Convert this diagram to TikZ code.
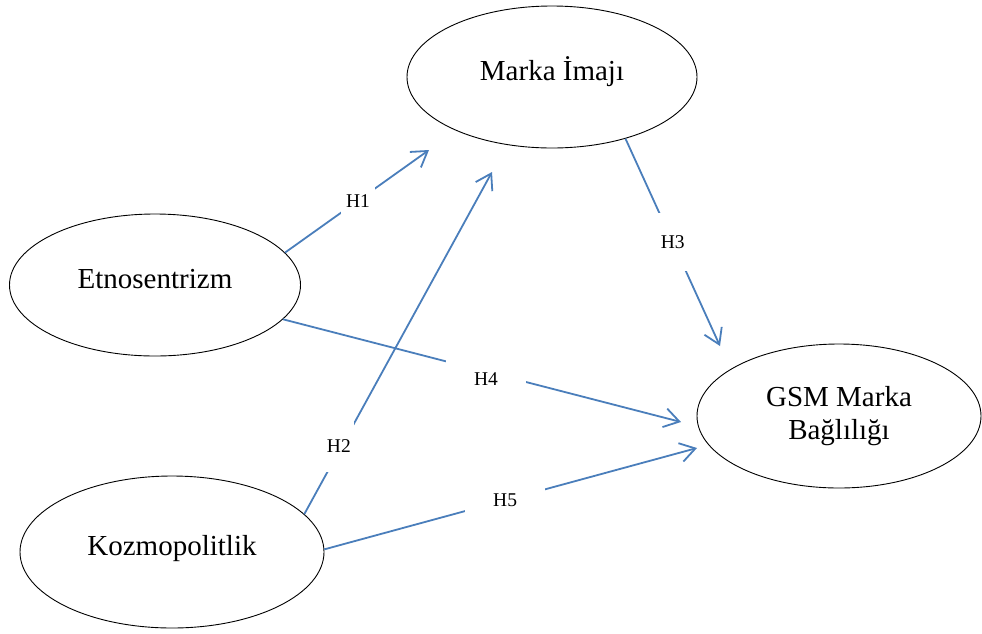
\documentclass[tikz,border=0pt]{standalone}
\usepackage{fontspec}
\setmainfont{Liberation Serif}
\usetikzlibrary{shapes.geometric,arrows.meta}
\definecolor{lineblue}{RGB}{74,126,187}
\begin{document}
\begin{tikzpicture}[x=1pt,y=-1pt,
  oval/.style={ellipse,draw=black,line width=0.9pt,inner sep=0pt,
    font=\fontsize{29}{33}\selectfont,align=center},
  oneline/.style={text height=20pt,text depth=13pt},
  arr/.style={draw=lineblue,line width=1.8pt,
    -{Straight Barb[length=15pt,width=19pt,line width=1.8pt]}},
  lbl/.style={fill=white,inner sep=0pt,font=\fontsize{19.5}{22}\selectfont}]
\useasboundingbox (0,0) rectangle (982,633);
\node[oval,oneline,minimum width=290,minimum height=142] (M) at (552,77) {Marka İmajı};
\node[oval,oneline,minimum width=291,minimum height=142] (E) at (155,285) {Etnosentrizm};
\node[oval,oneline,minimum width=304,minimum height=152] (K) at (172,552) {Kozmopolitlik};
\node[oval,minimum width=284,minimum height=144] (G) at (839,416) {GSM Marka\\Bağlılığı};
\coordinate (t1) at (429,150);
\coordinate (t2) at (492,172);
\coordinate (t3) at (720,346);
\coordinate (t4) at (681,422);
\coordinate (t5) at (697,448);
\draw[arr] (E.14.3) -- node[lbl,pos=0.507,minimum width=34,minimum height=40] (h1) {H1} (t1);
\draw[arr] (K.16) -- node[lbl,pos=0.20,xshift=-3pt,minimum width=30,minimum height=52] (h2) {H2} (t2);
\draw[arr] (M.-40.8) -- node[lbl,pos=0.50,minimum width=30,minimum height=58] (h3) {H3} (t3);
\draw[arr] (E.-15.7) -- node[lbl,pos=0.51,yshift=-7pt,minimum width=80,minimum height=40] (h4) {H4} (t4);
\draw[arr] (K.1.5) -- node[lbl,pos=0.485,minimum width=80,minimum height=30] (h5) {H5} (t5);
\end{tikzpicture}
\end{document}
